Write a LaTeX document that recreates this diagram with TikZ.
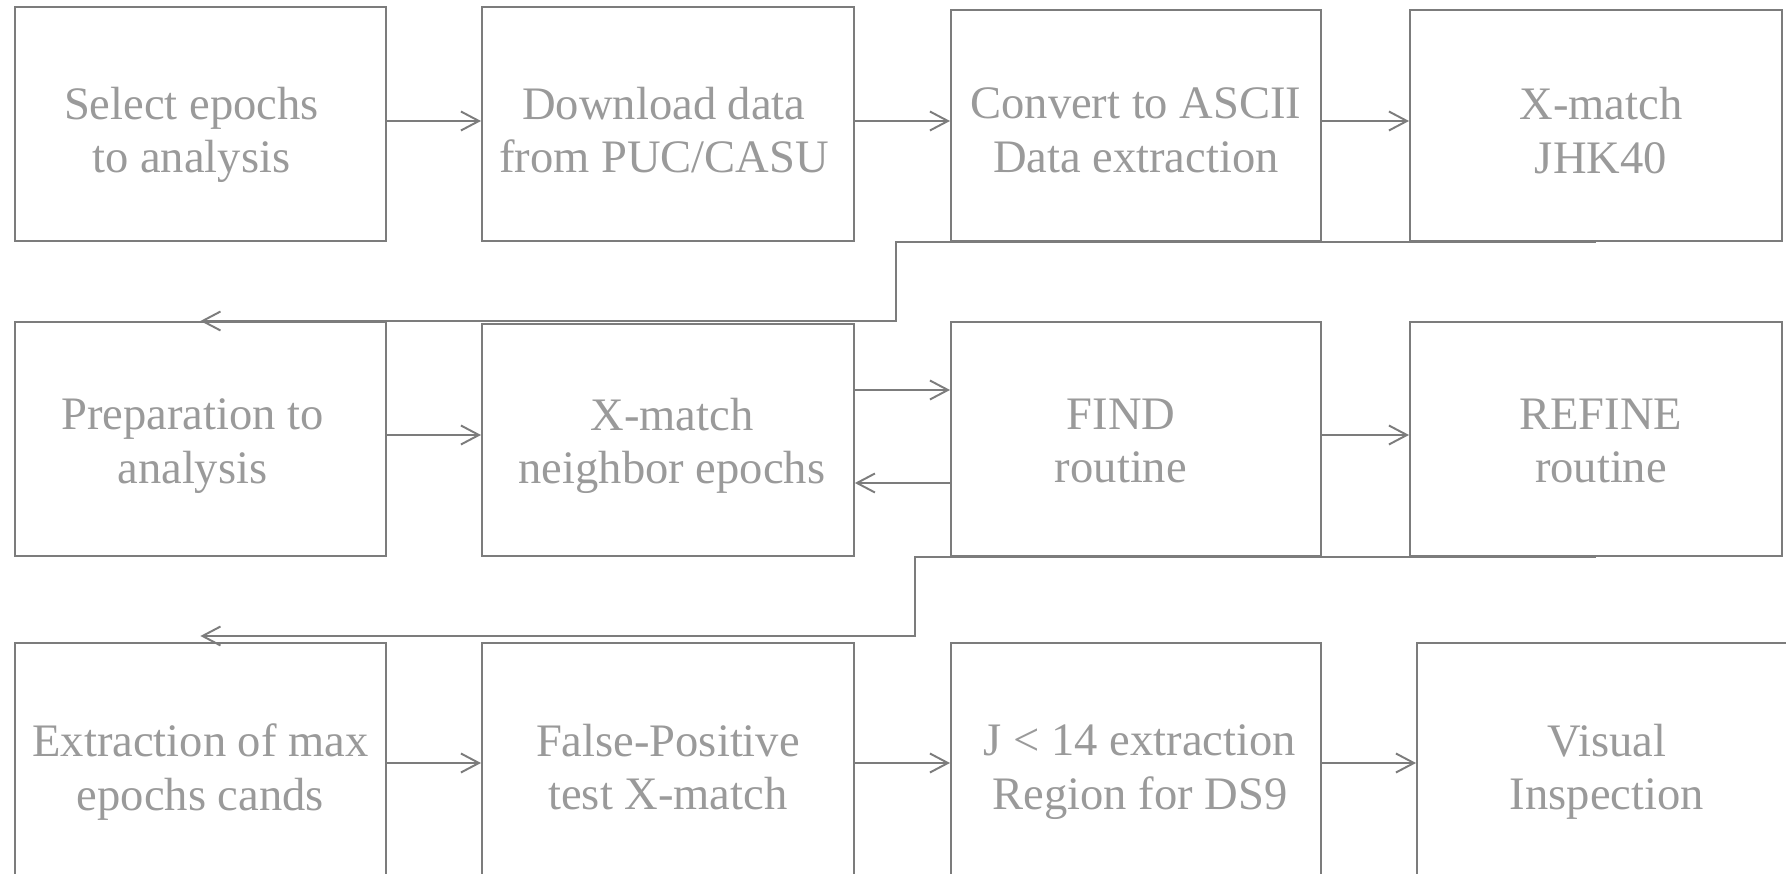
\documentclass[tikz,border=0pt]{standalone}
\usepackage{fontspec}
\setmainfont{Liberation Serif}
\usetikzlibrary{arrows.meta,calc}
\definecolor{linegray}{HTML}{7C7C7C}
\definecolor{textgray}{HTML}{9A9A9A}
\tikzset{
  stepbox/.style={draw=linegray, line width=1.1pt, anchor=north west, inner sep=0pt},
  boxtext/.style={align=center, text=textgray, inner sep=0pt, font=\fontsize{26.5}{30.6}\selectfont,
    execute at begin node=\strut, execute at end node=\strut},
  arr/.style={draw=linegray, line width=1.1pt, -{Straight Barb[length=3.6mm,width=3.8mm]}}
}
\begin{document}
\begin{tikzpicture}[x=0.02cm,y=-0.02cm]
\clip (0,0) rectangle (1786,874);
\fill[white] (0,0) rectangle (1786,874);
% row 1
\node[stepbox, minimum width=7.42cm, minimum height=4.68cm] (a1) at (14,6) {};
\node[stepbox, minimum width=7.44cm, minimum height=4.68cm] (a2) at (481,6) {};
\node[stepbox, minimum width=7.40cm, minimum height=4.62cm] (a3) at (950,9) {};
\node[stepbox, minimum width=7.44cm, minimum height=4.62cm] (a4) at (1409,9) {};
% row 2
\node[stepbox, minimum width=7.42cm, minimum height=4.68cm] (b1) at (14,321) {};
\node[stepbox, minimum width=7.44cm, minimum height=4.64cm] (b2) at (481,323) {};
\node[stepbox, minimum width=7.40cm, minimum height=4.68cm] (b3) at (950,321) {};
\node[stepbox, minimum width=7.44cm, minimum height=4.68cm] (b4) at (1409,321) {};
% row 3
\node[stepbox, minimum width=7.42cm, minimum height=5.0cm] (c1) at (14,642) {};
\node[stepbox, minimum width=7.44cm, minimum height=5.0cm] (c2) at (481,642) {};
\node[stepbox, minimum width=7.40cm, minimum height=5.0cm] (c3) at (950,642) {};
\node[stepbox, minimum width=7.60cm, minimum height=5.0cm] (c4) at (1416,642) {};
% texts
\node[boxtext] (ta1) at ($(a1.center)+(-9,14)$) {Select epochs\\to analysis};
\node[boxtext] (ta2) at ($(a2.center)+(-4,14)$) {Download data\\from PUC/CASU};
\node[boxtext] (ta3) at ($(a3.center)+(0,13)$) {Convert to ASCII\\Data extraction};
\node[boxtext] (ta4) at ($(a4.center)+(5,13)$) {X-match\\JHK40};
\node[boxtext] (tb1) at ($(b1.center)+(-8,10)$) {Preparation to\\analysis};
\node[boxtext] (tb2) at ($(b2.center)+(4,9)$) {X-match\\neighbor epochs};
\node[boxtext] (tb3) at ($(b3.center)+(-15,10)$) {FIND\\routine};
\node[boxtext] (tb4) at ($(b4.center)+(5,10)$) {REFINE\\routine};
\node[boxtext] (tc1) at ($(c1.center)+(0,7)$) {Extraction of max\\epochs cands};
\node[boxtext] (tc2) at ($(c2.center)+(0,7)$) {False-Positive\\test X-match};
\node[boxtext] (tc3) at ($(c3.center)+(4,7)$) {J {\char"3C} 14 extraction\\Region for DS9};
\node[boxtext] (tc4) at ($(c4.center)+(0,7)$) {Visual\\Inspection};
% bend points
\coordinate (k1) at (896,321);
\coordinate (k2) at (915,636);
% row 1 arrows
\draw[arr] (a1.east |- 0,121) -- (a2.west |- 0,121);
\draw[arr] (a2.east |- 0,121) -- (a3.west |- 0,121);
\draw[arr] (a3.east |- 0,121) -- (a4.west |- 0,121);
\draw[arr] (a4.south) -| (k1) -- (b1.north);
% row 2 arrows
\draw[arr] (b1.east |- 0,435) -- (b2.west |- 0,435);
\draw[arr] (b2.east |- 0,390) -- (b3.west |- 0,390);
\draw[arr] (b3.west |- 0,483) -- (b2.east |- 0,483);
\draw[arr] (b3.east |- 0,435) -- (b4.west |- 0,435);
\draw[arr] (b4.south) -| (k2) -- (c1.north |- k2);
% row 3 arrows
\draw[arr] (c1.east |- 0,763) -- (c2.west |- 0,763);
\draw[arr] (c2.east |- 0,763) -- (c3.west |- 0,763);
\draw[arr] (c3.east |- 0,763) -- (c4.west |- 0,763);
\end{tikzpicture}
\end{document}
